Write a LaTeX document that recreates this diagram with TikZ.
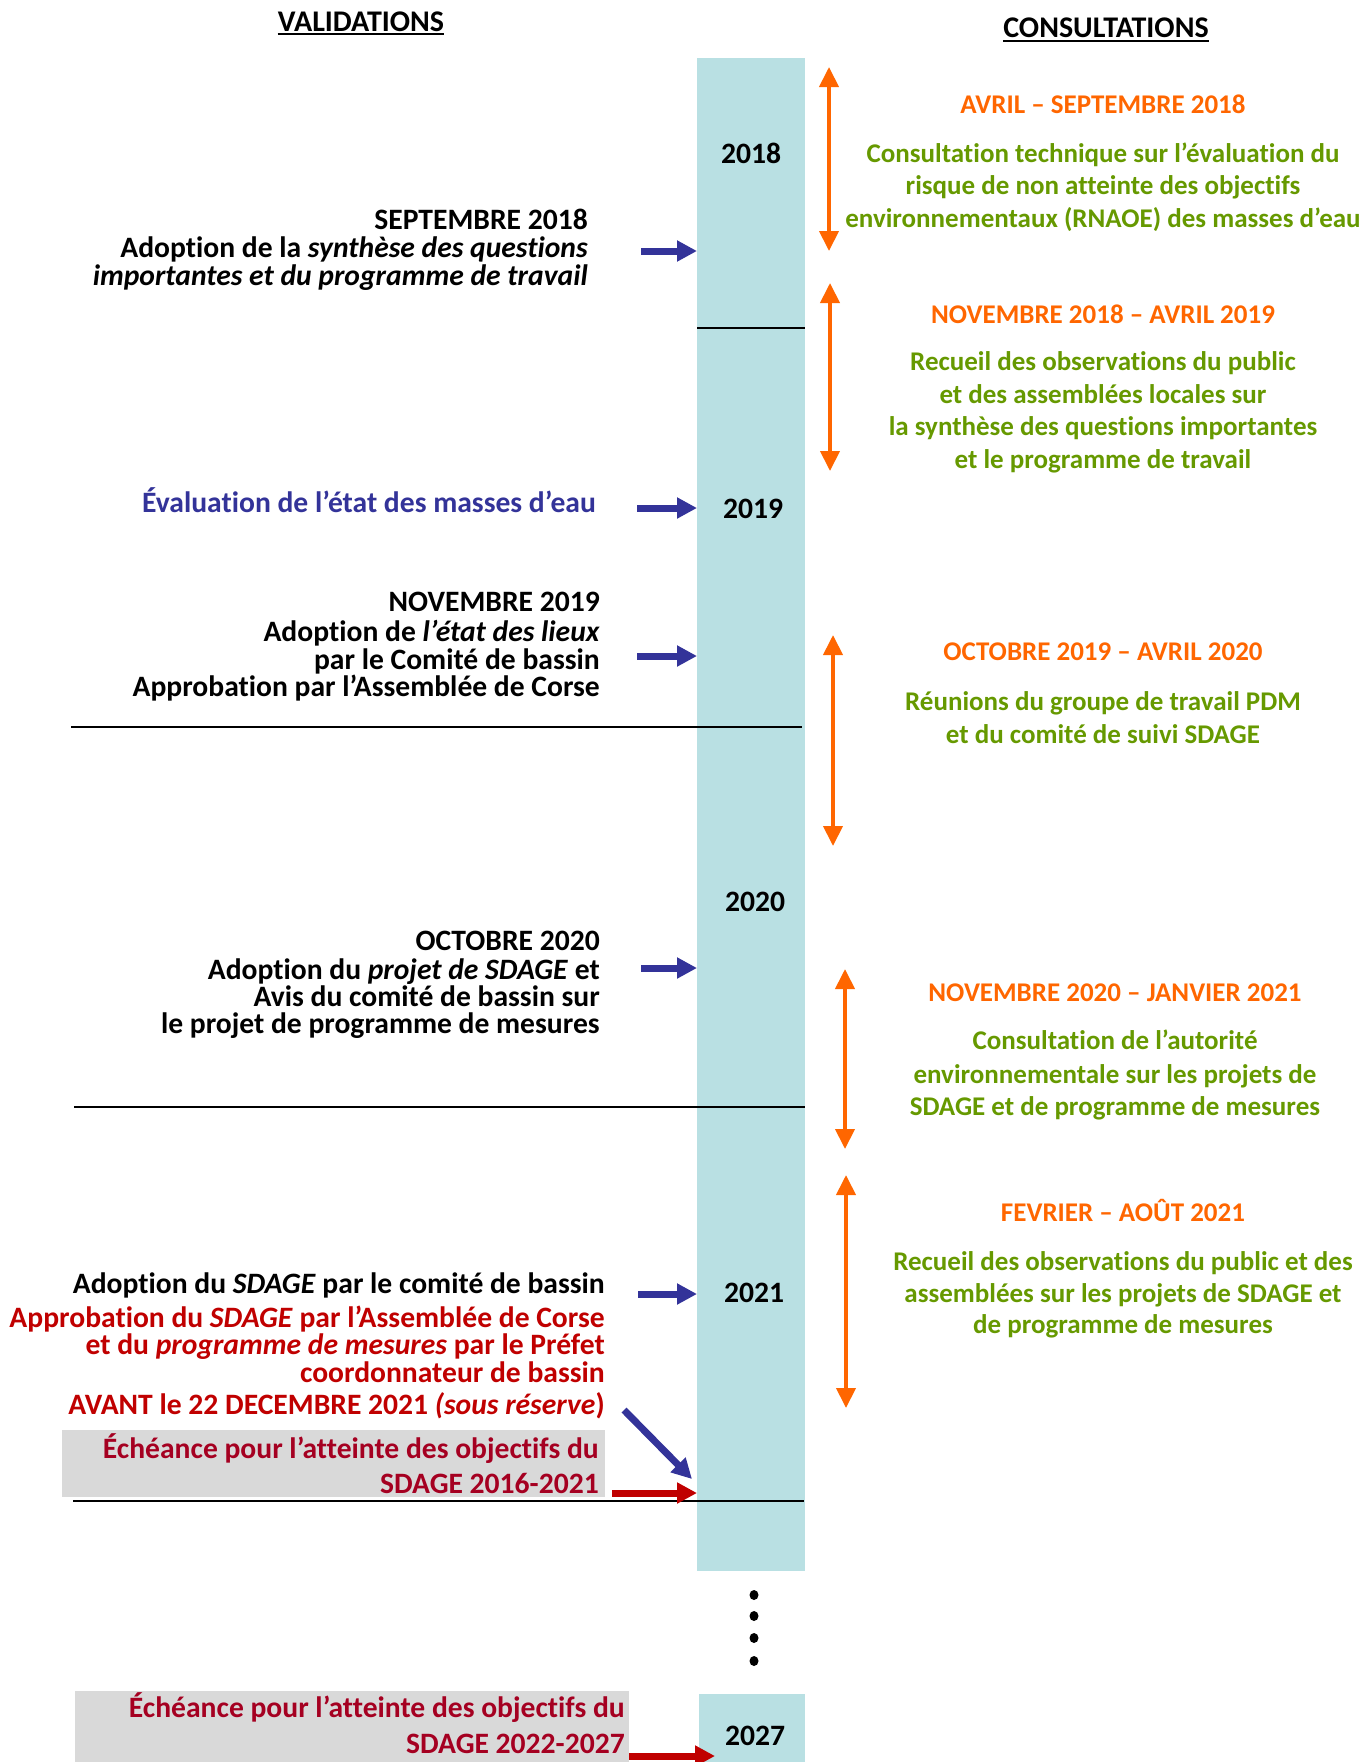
\documentclass[tikz,border=0pt]{standalone}
\usepackage{fontspec}
\setmainfont{Carlito}[Ligatures=NoCommon]
\usetikzlibrary{arrows.meta}
\definecolor{barc}{HTML}{B9E0E3}
\definecolor{navy}{HTML}{333399}
\definecolor{orng}{HTML}{FF6600}
\definecolor{grn}{HTML}{669900}
\definecolor{redA}{HTML}{C00000}
\definecolor{dred}{HTML}{A50021}
\definecolor{gbox}{HTML}{D9D9D9}
\begin{document}
\begin{tikzpicture}[x=1pt,y=-1pt,
  txt/.style={inner sep=0pt, font=\bfseries\fontsize{27}{27}\selectfont},
  big/.style={font=\bfseries\fontsize{29.6}{29.6}\selectfont},
  lt/.style={txt, big, anchor=base east},
  ct/.style={txt, anchor=base},
  ot/.style={ct, text=orng},
  gt/.style={ct, text=grn},
  yr/.style={ct, big},
  hd/.style={ct, font=\bfseries\fontsize{30}{30}\selectfont},
  barrow/.style={navy, line width=7pt, -{Triangle[length=20pt,width=20pt]}},
  rarrow/.style={redA, line width=7pt, -{Triangle[length=20pt,width=20pt]}},
  oarrow/.style={orng, line width=4pt, {Triangle[length=20pt,width=19pt]}-{Triangle[length=20pt,width=19pt]}},
  sep/.style={black, line width=2pt},
  dotc/.style={fill=black}
]
\useasboundingbox (0,0) rectangle (1369,1762);

% bars
\node (bar) [fill=barc, minimum width=108pt, minimum height=1513pt, anchor=north west, inner sep=0pt] at (697,58) {};
\node (bar2) [fill=barc, minimum width=106pt, minimum height=68pt, anchor=north west, inner sep=0pt] at (699,1694) {};

% headers
\node (hv) [hd] at (361,31) {VALIDATIONS};
\draw[line width=2.5pt] ([yshift=-3pt]hv.base west) -- ([yshift=-3pt]hv.base east);
\node (hc) [hd] at (1106,37) {CONSULTATIONS};
\draw[line width=2.5pt] ([yshift=-4pt]hc.base west) -- ([yshift=-4pt]hc.base east);

% years
\node (y18) [yr] at (751,163) {2018};
\node (y19) [yr] at (753,518) {2019};
\node (y20) [yr] at (755,911) {2020};
\node (y21) [yr] at (754,1302) {2021};
\node (y27) [yr] at (755,1745) {2027};

% separators
\coordinate (l1a) at (697,328); \coordinate (l1b) at (805,328);
\draw[sep] (l1a) -- (l1b);
\coordinate (l2a) at (71,727); \coordinate (l2b) at (802,727);
\draw[sep] (l2a) -- (l2b);
\coordinate (l3a) at (74,1107); \coordinate (l3b) at (805,1107);
\draw[sep] (l3a) -- (l3b);
\coordinate (l4a) at (73,1501); \coordinate (l4b) at (804,1501);
\draw[sep] (l4a) -- (l4b);

% dots
\foreach \yy in {1595,1616,1638,1661}
  \fill[dotc] (754,\yy) ellipse [x radius=4.5pt, y radius=5pt];

% left texts
\node (v1a) [lt] at (588,229) {SEPTEMBRE 2018};
\node (v1b) [lt] at (588,257) {Adoption de la \textit{synthèse des questions}};
\node (v1c) [lt] at (588,285) {\textit{importantes et du programme de travail}};

\node (v2) [lt, text=navy] at (596,512) {Évaluation de l’état des masses d’eau};

\node (v3a) [lt] at (600,611) {NOVEMBRE 2019};
\node (v3b) [lt] at (600,641) {Adoption de \textit{l’état des lieux}};
\node (v3c) [lt] at (600,669) {par le Comité de bassin};
\node (v3d) [lt] at (600,696) {Approbation par l’Assemblée de Corse};

\node (v4a) [lt] at (600,950) {OCTOBRE 2020};
\node (v4b) [lt] at (600,979) {Adoption du \textit{projet de SDAGE} et};
\node (v4c) [lt] at (600,1006) {Avis du comité de bassin sur};
\node (v4d) [lt] at (600,1033) {le projet de programme de mesures};

\node (v5a) [lt] at (605,1293) {Adoption du \textit{SDAGE} par le comité de bassin};
\node (v5b) [lt, text=redA] at (605,1327) {Approbation du \textit{SDAGE} par l’Assemblée de Corse};
\node (v5c) [lt, text=redA] at (605,1354) {et du \textit{programme de mesures} par le Préfet};
\node (v5d) [lt, text=redA] at (605,1382) {coordonnateur de bassin};
\node (v5e) [lt, text=redA] at (605,1414) {AVANT le 22 DECEMBRE 2021 \textit{(sous réserve})};

\fill[gbox] (62,1430) rectangle (605,1497);
\node (g1a) [lt, text=dred] at (599,1458) {Échéance pour l’atteinte des objectifs du};
\node (g1b) [lt, text=dred] at (599,1493) {SDAGE 2016-2021};

\fill[gbox] (75,1691) rectangle (629,1762);
\node (g2a) [lt, text=dred] at (625,1717) {Échéance pour l’atteinte des objectifs du};
\node (g2b) [lt, text=dred] at (625,1753) {SDAGE 2022-2027};

% blue arrows
\coordinate (a1) at (641,251);
\draw[barrow] (a1) -- (a1 -| bar.west);
\coordinate (a2) at (637,508);
\draw[barrow] (a2) -- (a2 -| bar.west);
\coordinate (a3) at (637,656);
\draw[barrow] (a3) -- (a3 -| bar.west);
\coordinate (a4) at (641,968);
\draw[barrow] (a4) -- (a4 -| bar.west);
\coordinate (a5) at (638,1294);
\draw[barrow] (a5) -- (a5 -| bar.west);
\coordinate (a6s) at (624,1410);
\coordinate (a6e) at (692,1479);
\draw[barrow] (a6s) -- (a6e);
% red arrows
\coordinate (r1) at (612,1493);
\draw[rarrow] (r1) -- (r1 -| bar.west);
\coordinate (r2) at (629,1756);
\draw[rarrow] (r2) -- ([xshift=16pt]r2 -| bar2.west);

% orange arrows
\coordinate (o1a) at (829,67);  \coordinate (o1b) at (829,251);
\draw[oarrow] (o1a) -- (o1b);
\coordinate (o2a) at (830,283); \coordinate (o2b) at (830,471);
\draw[oarrow] (o2a) -- (o2b);
\coordinate (o3a) at (833,635); \coordinate (o3b) at (833,846);
\draw[oarrow] (o3a) -- (o3b);
\coordinate (o4a) at (845,969); \coordinate (o4b) at (845,1149);
\draw[oarrow] (o4a) -- (o4b);
\coordinate (o5a) at (846,1175); \coordinate (o5b) at (846,1408);
\draw[oarrow] (o5a) -- (o5b);

% right texts
\node (c1t) [ot] at (1103,113) {AVRIL – SEPTEMBRE 2018};
\node (c1a) [gt] at (1103,162) {Consultation technique sur l’évaluation du};
\node (c1b) [gt] at (1103,194) {risque de non atteinte des objectifs};
\node (c1c) [gt] at (1103,227) {environnementaux (RNAOE) des masses d’eau};

\node (c2t) [ot] at (1103,323) {NOVEMBRE 2018 – AVRIL 2019};
\node (c2a) [gt] at (1103,370) {Recueil des observations du public};
\node (c2b) [gt] at (1103,403) {et des assemblées locales sur};
\node (c2c) [gt] at (1103,435) {la synthèse des questions importantes};
\node (c2d) [gt] at (1103,468) {et le programme de travail};

\node (c3t) [ot] at (1103,660) {OCTOBRE 2019 – AVRIL 2020};
\node (c3a) [gt] at (1103,710) {Réunions du groupe de travail PDM};
\node (c3b) [gt] at (1103,743) {et du comité de suivi SDAGE};

\node (c4t) [ot] at (1115,1001) {NOVEMBRE 2020 – JANVIER 2021};
\node (c4a) [gt] at (1115,1049) {Consultation de l’autorité};
\node (c4b) [gt] at (1115,1083) {environnementale sur les projets de};
\node (c4c) [gt] at (1115,1115) {SDAGE et de programme de mesures};

\node (c5t) [ot] at (1123,1221) {FEVRIER – AOÛT 2021};
\node (c5a) [gt] at (1123,1270) {Recueil des observations du public et des};
\node (c5b) [gt] at (1123,1302) {assemblées sur les projets de SDAGE et};
\node (c5c) [gt] at (1123,1333) {de programme de mesures};
\end{tikzpicture}
\end{document}
